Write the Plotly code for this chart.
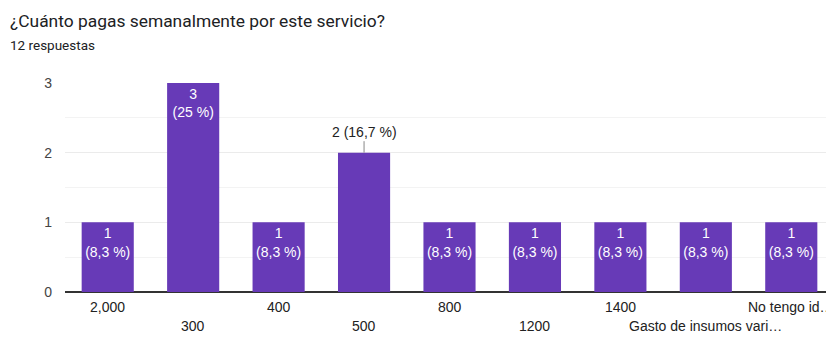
import plotly.graph_objects as go

categories = ["2,000", "300", "400", "500", "800", "1200", "1400",
              "Gasto de insumos vari…", "No tengo id…"]
values = [1, 3, 1, 2, 1, 1, 1, 1, 1]
percents = ["8,3 %", "25 %", "8,3 %", "16,7 %", "8,3 %", "8,3 %", "8,3 %", "8,3 %", "8,3 %"]
outside_idx = [3]

BAR = "#673ab7"
FONT = "Arial, 'Liberation Sans', sans-serif"
TFONT = "Roboto, Arial, sans-serif"

texts = []
for i, (v, p) in enumerate(zip(values, percents)):
    texts.append("" if i in outside_idx else f"{v}<br>({p})")

fig = go.Figure()
fig.add_trace(go.Bar(
    x=list(range(len(categories))), y=values, text=texts,
    textposition="inside", insidetextanchor="end",
    textfont=dict(color="white", size=14, family=FONT),
    marker=dict(color=BAR, line=dict(width=0)),
    width=0.61, hoverinfo="skip", cliponaxis=False,
))

annotations = []
for i in outside_idx:
    annotations.append(dict(
        x=i, y=values[i], xref="x", yref="y",
        text=f"{values[i]} ({percents[i]})", showarrow=True,
        arrowhead=0, arrowwidth=1, arrowcolor="#888", ax=0, ay=-21,
        font=dict(size=14, color="#222", family=FONT),
    ))

for i, c in enumerate(categories):
    annotations.append(dict(
        x=i, y=0, xref="x", yref="paper", text=c, showarrow=False,
        yanchor="middle", yshift=-15 if i % 2 == 0 else -34,
        font=dict(size=14, color="#222", family=FONT),
    ))

annotations.append(dict(x=0, y=1, xref="paper", yref="paper", xanchor="left", yanchor="top",
                        text="¿Cuánto pagas semanalmente por este servicio?", showarrow=False,
                        xshift=-57, yshift=74,
                        font=dict(size=17.4, color="#202124", family=TFONT)))
annotations.append(dict(x=0, y=1, xref="paper", yref="paper", xanchor="left", yanchor="top",
                        text="12 respuestas", showarrow=False,
                        xshift=-57, yshift=48,
                        font=dict(size=13.5, color="#202124", family=TFONT)))

fig.update_layout(
    width=826, height=331,
    margin=dict(l=57, r=0, t=75, b=47),
    paper_bgcolor="white", plot_bgcolor="white",
    showlegend=False,
    xaxis=dict(range=[-0.5, len(categories) - 0.5], showticklabels=False,
               showgrid=False, zeroline=False, showline=False, fixedrange=True),
    yaxis=dict(range=[0, 3], tickvals=[0, 1, 2, 3], showgrid=True,
               gridcolor="#ebebeb", gridwidth=1,
               minor=dict(dtick=0.5, showgrid=True, gridcolor="#f3f3f3"),
               zeroline=True, zerolinecolor="#333", zerolinewidth=2,
               showline=False, ticks="", ticklabelstandoff=12,
               tickfont=dict(size=14, color="#444", family=FONT), fixedrange=True),
    annotations=annotations,
)

fig.write_html("out.html")
